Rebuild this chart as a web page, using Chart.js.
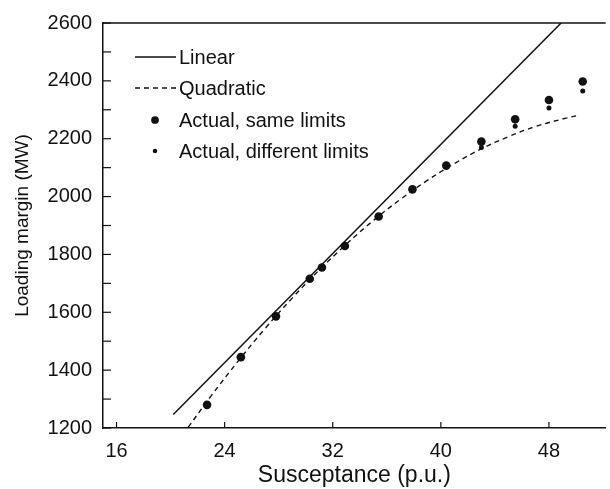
<!DOCTYPE html>
<html>
<head>
<meta charset="utf-8">
<script src="https://cdn.jsdelivr.net/npm/chart.js@4/dist/chart.umd.min.js"></script>
<style>
  html, body { margin: 0; padding: 0; background: #fff; overflow: hidden; }
  #wrap { width: 610px; height: 489px; }
</style>
</head>
<body>
<div id="wrap"><canvas id="grafico"></canvas></div>
<script>
// valores
var linealX = [20.2, 48.9];
var linealY = [1247, 2600];

var cuadX = [21.3, 23, 25, 27, 29, 31, 33, 35, 37, 39, 41, 43, 45, 47, 49, 50.3];
var cuadY = [1202, 1311, 1431, 1544, 1649, 1746, 1835, 1917, 1990, 2056, 2114, 2165, 2207, 2242, 2268, 2282];

var realX = [22.7, 25.2, 27.8, 30.3, 31.2, 32.9, 35.4, 37.9, 40.4, 43.0, 45.5, 48.0, 50.5];
var mismosY = [1280, 1445, 1586, 1716, 1755, 1829, 1931, 2025, 2107, 2190, 2267, 2334, 2398];
var distintosY = [1280, 1445, 1586, 1716, 1755, 1829, 1931, 2025, 2107, 2170, 2243, 2306, 2365];

var xTicks = [16, 24, 32, 40, 48];
var yTicks = [1200, 1300, 1400, 1500, 1600, 1700, 1800, 1900, 2000, 2100, 2200, 2300, 2400, 2500, 2600];

var fuente = "'Liberation Sans', Arial, Helvetica, sans-serif";
var negro = '#111';

function puntos(xs, ys) {
  return xs.map(function (x, i) { return { x: x, y: ys[i] }; });
}

// marco superior y marcas hacia adentro
var marcasPlugin = {
  id: 'marcas',
  afterDraw: function (chart) {
    var ctx = chart.ctx;
    var area = chart.chartArea;
    ctx.save();
    ctx.strokeStyle = negro;
    ctx.lineWidth = 1.5;
    ctx.beginPath();
    ctx.moveTo(area.left, area.top);
    ctx.lineTo(area.right, area.top);
    ctx.stroke();

    ctx.lineWidth = 1.2;
    chart.scales.y.ticks.forEach(function (t) {
      var py = chart.scales.y.getPixelForValue(t.value);
      ctx.beginPath();
      ctx.moveTo(area.left, py);
      ctx.lineTo(area.left + 8, py);
      ctx.stroke();
    });
    chart.scales.x.ticks.forEach(function (t) {
      var px = chart.scales.x.getPixelForValue(t.value);
      ctx.beginPath();
      ctx.moveTo(px, area.bottom);
      ctx.lineTo(px, area.bottom - 6);
      ctx.stroke();
    });
    ctx.restore();
  }
};

// leyenda dentro del area del grafico
var leyendaPlugin = {
  id: 'leyenda',
  afterDraw: function (chart) {
    var ctx = chart.ctx;
    var area = chart.chartArea;
    var x0 = area.left + 32;
    var x1 = area.left + 73;
    var xt = area.left + 76;
    var filas = [34, 65, 97, 128];
    ctx.save();
    ctx.font = '20px ' + fuente;
    ctx.textBaseline = 'middle';
    ctx.textAlign = 'left';
    chart.data.datasets.forEach(function (ds, i) {
      var y = area.top + filas[i];
      ctx.strokeStyle = negro;
      ctx.fillStyle = negro;
      if (ds.showLine) {
        ctx.lineWidth = 1.3;
        ctx.setLineDash(ds.borderDash || []);
        ctx.beginPath();
        ctx.moveTo(x0, y);
        ctx.lineTo(x1, y);
        ctx.stroke();
        ctx.setLineDash([]);
      } else {
        ctx.beginPath();
        ctx.arc(x0 + 20, y, ds.pointRadius * 0.9, 0, Math.PI * 2);
        ctx.fill();
      }
      ctx.fillText(ds.label, xt, y + 1);
    });
    ctx.restore();
  }
};

var ctx = document.getElementById('grafico').getContext('2d');
new Chart(ctx, {
  type: 'scatter',
  data: {
    datasets: [
      {
        label: 'Linear',
        data: puntos(linealX, linealY),
        showLine: true,
        borderColor: negro,
        borderWidth: 1.5,
        pointRadius: 0
      },
      {
        label: 'Quadratic',
        data: puntos(cuadX, cuadY),
        showLine: true,
        borderColor: negro,
        borderWidth: 1.4,
        borderDash: [5, 4],
        tension: 0.4,
        pointRadius: 0
      },
      {
        label: 'Actual, same limits',
        data: puntos(realX, mismosY),
        showLine: false,
        backgroundColor: negro,
        borderColor: negro,
        borderWidth: 0,
        pointRadius: 4.3
      },
      {
        label: 'Actual, different limits',
        data: puntos(realX, distintosY),
        showLine: false,
        backgroundColor: negro,
        borderColor: negro,
        borderWidth: 0,
        pointRadius: 2.5
      }
    ]
  },
  options: {
    responsive: true,
    maintainAspectRatio: false,
    animation: false,
    layout: { padding: { top: 17, right: 2, left: 0, bottom: 0 } },
    plugins: {
      legend: { display: false },
      tooltip: { enabled: false }
    },
    scales: {
      x: {
        type: 'linear',
        min: 15,
        max: 52.2,
        afterBuildTicks: function (scale) {
          scale.ticks = xTicks.map(function (v) { return { value: v }; });
        },
        afterFit: function (scale) { scale.height = 61; },
        grid: { display: false, drawTicks: false },
        border: { display: true, color: negro, width: 1.5 },
        ticks: {
          color: negro,
          padding: 11,
          maxRotation: 0,
          font: { family: fuente, size: 20 }
        },
        title: {
          display: true,
          text: 'Susceptance (p.u.)',
          color: negro,
          padding: { top: 0, bottom: 0 },
          font: { family: fuente, size: 23 }
        }
      },
      y: {
        type: 'linear',
        min: 1200,
        max: 2600,
        afterBuildTicks: function (scale) {
          scale.ticks = yTicks.map(function (v) { return { value: v }; });
        },
        afterFit: function (scale) { scale.width = 103; },
        grid: { display: false, drawTicks: false },
        border: { display: true, color: negro, width: 1.5 },
        ticks: {
          color: negro,
          padding: 11,
          font: { family: fuente, size: 20 },
          callback: function (v) { return v % 200 === 0 ? String(v) : ''; }
        },
        title: {
          display: true,
          text: 'Loading margin (MW)',
          color: negro,
          padding: { top: 11, bottom: 0 },
          font: { family: fuente, size: 19 }
        }
      }
    }
  },
  plugins: [marcasPlugin, leyendaPlugin]
});
</script>
</body>
</html>
